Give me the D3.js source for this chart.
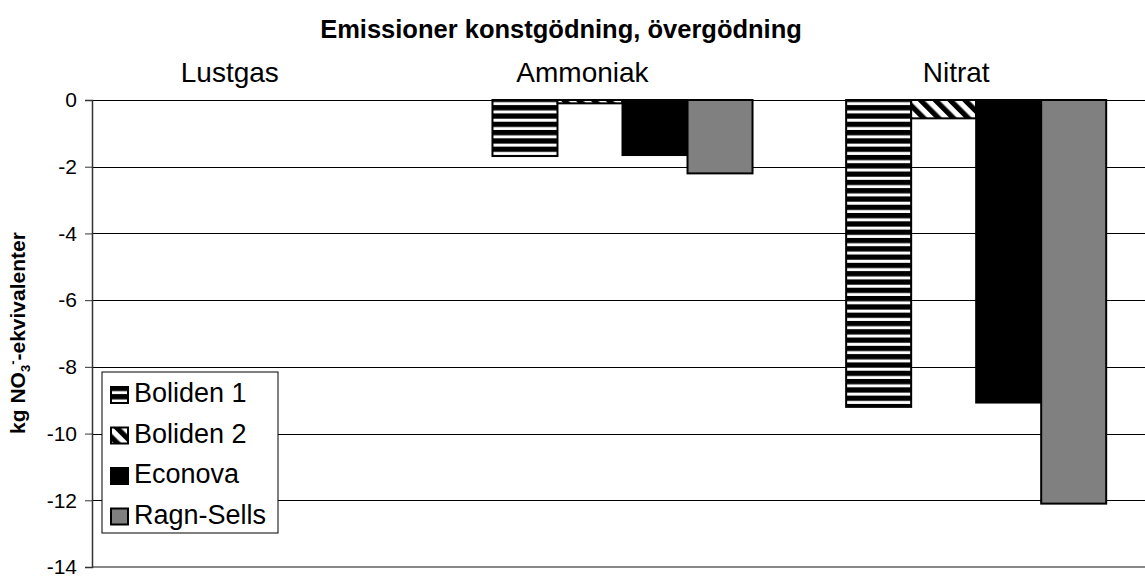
<!DOCTYPE html>
<html><head><meta charset="utf-8">
<script src="https://cdn.jsdelivr.net/npm/d3@7"></script>
<style>body{margin:0;background:#fff}svg{display:block;font-family:"Liberation Sans",Arial,sans-serif}</style>
</head><body><svg id="c" width="1145" height="577"></svg>
<script>
const categories = ["Lustgas", "Ammoniak", "Nitrat"];
const seriesNames = ["Boliden 1", "Boliden 2", "Econova", "Ragn-Sells"];
const boliden1 = [0, -1.68, -9.2];
const boliden2 = [0, -0.1, -0.55];
const econova = [0, -1.65, -9.07];
const ragnSells = [0, -2.2, -12.1];
const yTicks = [0, -2, -4, -6, -8, -10, -12, -14];

(function(){
const values = [boliden1, boliden2, econova, ragnSells];
const fills = ["url(#hstripe)", "url(#dstripe)", "#000", "#808080"];
const labelShift = [-39, -40, -20];

const svg = d3.select("#c");
const defs = svg.append("defs");
const hp = defs.append("pattern").attr("id","hstripe").attr("patternUnits","userSpaceOnUse").attr("width",8).attr("height",8.3);
hp.append("rect").attr("width",8).attr("height",8.3).attr("fill","#000");
hp.append("rect").attr("y",2.5).attr("width",8).attr("height",3).attr("fill","#fff");
const dp = defs.append("pattern").attr("id","dstripe").attr("patternUnits","userSpaceOnUse").attr("width",10.5).attr("height",10.5).attr("patternTransform","rotate(-45)");
dp.append("rect").attr("width",10.5).attr("height",10.5).attr("fill","#fff");
dp.append("rect").attr("width",5.25).attr("height",10.5).attr("fill","#000");

const pLeft = 92, pRight = 1153, pTop = 100, pBottom = 567;
const x0 = d3.scaleBand().domain(categories).range([pLeft, pRight]).paddingInner(0).paddingOuter(0);
const x1 = d3.scaleBand().domain(seriesNames).range([0, x0.bandwidth()]).paddingInner(0).paddingOuter(0.72);
const y = d3.scaleLinear().domain([-14, 0]).range([pBottom, pTop]);

svg.append("g").selectAll("line").data(yTicks.filter(d=>d!==-14)).join("line")
  .attr("x1", pLeft).attr("x2", 1145).attr("y1", d=>Math.round(y(d))+0.5).attr("y2", d=>Math.round(y(d))+0.5)
  .attr("stroke","#000").attr("stroke-width",1);
svg.append("line").attr("x1",pLeft).attr("x2",1145).attr("y1",y(-14)).attr("y2",y(-14))
  .attr("stroke","#888").attr("stroke-width",2);

const yAxis = d3.axisLeft(y).tickValues(yTicks).tickSize(7).tickPadding(8);
const ga = svg.append("g").attr("transform",`translate(${pLeft},0)`).call(yAxis);
ga.attr("font-family", null).attr("font-size", null);
ga.select(".domain").attr("stroke","#333").attr("stroke-width",1.5);
ga.selectAll(".tick line").attr("stroke","#333");
ga.selectAll(".tick text").attr("font-size",21).attr("fill","#000")
  .text(d => d < 0 ? "-" + Math.abs(d) : String(d));

categories.forEach((c, ci) => {
  seriesNames.forEach((s, si) => {
    const v = values[si][ci];
    if (v === 0) return;
    svg.append("rect")
      .attr("x", x0(c) + x1(s)).attr("width", x1.bandwidth())
      .attr("y", y(0)).attr("height", y(v) - y(0))
      .attr("fill", fills[si]).attr("stroke","#000").attr("stroke-width",2);
  });
});

svg.append("g").selectAll("text").data(categories).join("text")
  .attr("x", (d,i) => x0(d) + x0.bandwidth()/2 + labelShift[i]).attr("y", 82)
  .attr("text-anchor","middle").attr("font-size",28).text(d=>d);

svg.append("text").attr("x",561).attr("y",38).attr("text-anchor","middle")
  .attr("font-size",25.5).attr("font-weight","bold").text("Emissioner konstgödning, övergödning");

const yl = svg.append("text").attr("transform","translate(25,333) rotate(-90)")
  .attr("text-anchor","middle").attr("font-size",21).attr("font-weight","bold");
yl.append("tspan").text("kg NO");
yl.append("tspan").attr("font-size",13).attr("dy",5).text("3");
yl.append("tspan").attr("font-size",13).attr("dy",-13).text("-");
yl.append("tspan").attr("dy",8).text("-ekvivalenter");

const lg = svg.append("g").attr("transform","translate(102,372)");
lg.append("rect").attr("width",176).attr("height",161).attr("fill","#fff").attr("stroke","#000").attr("stroke-width",1);
seriesNames.forEach((s,i) => {
  const base = 30 + i*40.5;
  lg.append("rect").attr("x",9).attr("y",base-15).attr("width",17).attr("height",16)
    .attr("fill",fills[i]).attr("stroke","#000").attr("stroke-width",2);
  lg.append("text").attr("x",32).attr("y",base).attr("font-size",27).text(s);
});
})();
</script></body></html>
